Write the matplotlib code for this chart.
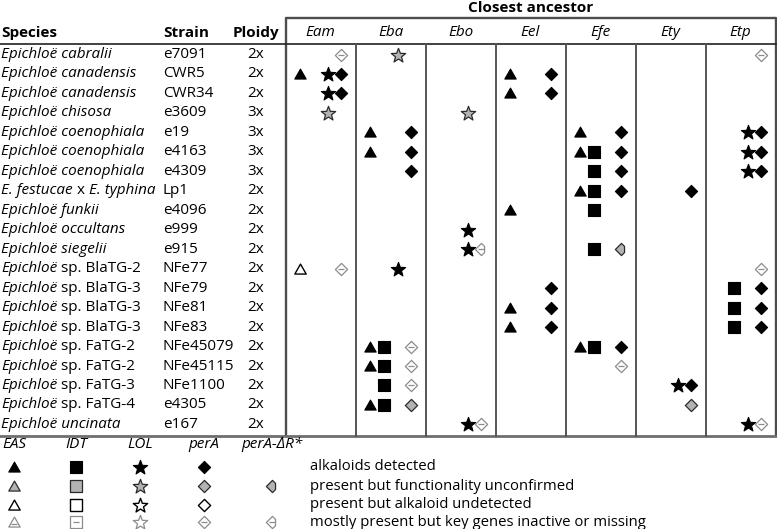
import re
import matplotlib
matplotlib.use("Agg")
import matplotlib.pyplot as plt
from matplotlib.path import Path
import numpy as np

FONT = "Open Sans"
plt.rcParams['font.family'] = [FONT, 'DejaVu Sans']

# ---------------- data ----------------
species = ["*Epichloë cabralii*", "*Epichloë canadensis*", "*Epichloë canadensis*", "*Epichloë chisosa*",
           "*Epichloë coenophiala*", "*Epichloë coenophiala*", "*Epichloë coenophiala*",
           "*E. festucae* x *E. typhina*", "*Epichloë funkii*", "*Epichloë occultans*", "*Epichloë siegelii*",
           "*Epichloë* sp. BlaTG-2", "*Epichloë* sp. BlaTG-3", "*Epichloë* sp. BlaTG-3", "*Epichloë* sp. BlaTG-3",
           "*Epichloë* sp. FaTG-2", "*Epichloë* sp. FaTG-2", "*Epichloë* sp. FaTG-3", "*Epichloë* sp. FaTG-4",
           "*Epichloë uncinata*"]
strains = ["e7091", "CWR5", "CWR34", "e3609", "e19", "e4163", "e4309", "Lp1", "e4096", "e999", "e915",
           "NFe77", "NFe79", "NFe81", "NFe83", "NFe45079", "NFe45115", "NFe1100", "e4305", "e167"]
ploidy = ["2x", "2x", "2x", "3x", "3x", "3x", "3x", "2x", "2x", "2x", "2x",
          "2x", "2x", "2x", "2x", "2x", "2x", "2x", "2x", "2x"]
ancestors = ["Eam", "Eba", "Ebo", "Eel", "Efe", "Ety", "Etp"]

# gene codes: E=EAS, I=IDT, L=LOL, P=perA, R=perA-dR ; state 1=detected 2=unconfirmed 3=undetected 4=inactive
cells_eam = {0: "P4", 1: "E1 L1 P1", 2: "L1 P1", 3: "L2", 11: "E3 P4"}
cells_eba = {0: "L2", 4: "E1 P1", 5: "E1 P1", 6: "P1", 11: "L1", 15: "E1 I1 P4", 16: "E1 I1 P4",
             17: "I1 P4", 18: "E1 I1 P2"}
cells_ebo = {3: "L2", 9: "L1", 10: "L1 R4", 19: "L1 P4"}
cells_eel = {1: "E1 P1", 2: "E1 P1", 8: "E1", 12: "P1", 13: "E1 P1", 14: "E1 P1"}
cells_efe = {4: "E1 P1", 5: "E1 I1 P1", 6: "I1 P1", 7: "E1 I1 P1", 8: "I1", 10: "I1 R2",
             15: "E1 I1 P1", 16: "P4"}
cells_ety = {7: "P1", 17: "L1 P1", 18: "P2"}
cells_etp = {0: "P4", 4: "L1 P1", 5: "L1 P1", 6: "L1 P1", 11: "P4", 12: "I1 P1", 13: "I1 P1",
             14: "I1 P1", 19: "L1 P4"}
all_cells = [cells_eam, cells_eba, cells_ebo, cells_eel, cells_efe, cells_ety, cells_etp]

legend_genes = ["EAS", "IDT", "LOL", "perA", "perA-ΔR*"]
legend_codes = ["E", "I", "L", "P", "R"]
legend_states = ["alkaloids detected", "present but functionality unconfirmed",
                 "present but alkaloid undetected", "mostly present but key genes inactive or missing"]

# ---------------- layout ----------------
W, H = 777, 529
fig = plt.figure(figsize=(W / 100, H / 100), dpi=100)
ax = fig.add_axes([0, 0, 1, 1])
ax.set_xlim(0, W)
ax.set_ylim(H, 0)
ax.axis('off')

row_y0, row_dy = 54.5, 19.47
box_left, box_right, box_top, head_line, box_bot = 285.5, 775.5, 18, 43.5, 435.5
col_w = (box_right - box_left) / len(ancestors)
slot_off = {"E": 14.5, "I": 28.5, "L": 42, "P": 55.5, "R": 55.5}
FS = 11

# shapes
def star_path(n=5, inner=0.42):
    ang = np.pi / 2 + np.arange(2 * n) * np.pi / n
    r = np.where(np.arange(2 * n) % 2 == 0, 1.0, inner)
    v = np.c_[r * np.cos(ang), r * np.sin(ang) - 0.05]
    return Path(np.vstack([v, v[:1]]), closed=True)

shapes = {
    "E": (Path([(-1, -0.8), (1, -0.8), (0, 0.95), (-1, -0.8)], closed=True), 8.2),
    "I": (Path([(-1, -1), (1, -1), (1, 1), (-1, 1), (-1, -1)], closed=True), 8.0),
    "L": (star_path(), 10.3),
    "P": (Path([(0, 1), (1, 0), (0, -1), (-1, 0), (0, 1)], closed=True), 8.8),
    "R": (Path([(0, 1), (-1, 0), (0, -1), (0.5, -0.5), (0.5, 0.5), (0, 1)], closed=True), 8.8),
}
state_style = {
    1: dict(mfc="black", mec="black", mew=0.8),
    2: dict(mfc="#b3b3b3", mec="#2b2b2b", mew=0.9),
    3: dict(mfc="white", mec="black", mew=1.0),
    4: dict(mfc="white", mec="#8c8c8c", mew=0.9),
}
minus_dy = {"E": 2.0, "I": 0.0, "L": 0.0, "P": 0.0, "R": 0.0}

def draw_symbol(gene, state, x, y):
    path, ms = shapes[gene]
    ax.plot([x], [y], marker=path, ms=ms, ls="none", **state_style[state], zorder=3)
    if state == 4 and gene != "L":
        ax.plot([x], [y + minus_dy[gene]], marker="_", ms=ms * 0.55, mew=0.9, color="#8c8c8c", zorder=4)

# ---------------- lines ----------------
lc = "#4d4d4d"
ax.plot([box_left, box_left, box_right, box_right], [box_bot, box_top, box_top, box_bot], color=lc, lw=1.7,
        solid_capstyle="butt", zorder=2)
ax.plot([0, box_right], [head_line, head_line], color="#222222", lw=1.2, zorder=2)
ax.plot([0, box_right], [box_bot, box_bot], color="#6e6e6e", lw=2.0, zorder=2)
for k in range(1, len(ancestors)):
    xk = box_left + k * col_w
    ax.plot([xk, xk], [head_line, box_bot], color="#555555", lw=1.4, zorder=2)

# ---------------- header texts ----------------
ax.text((box_left + box_right) / 2, 8, "Closest ancestor", ha="center", va="center", fontsize=FS,
        fontweight="bold")
hy = 33
ax.text(1, hy, "Species", ha="left", va="center", fontsize=FS, fontweight="bold")
ax.text(163, hy, "Strain", ha="left", va="center", fontsize=FS, fontweight="bold")
ax.text(256, hy, "Ploidy", ha="center", va="center", fontsize=FS, fontweight="bold")
for k, a in enumerate(ancestors):
    ax.text(box_left + (k + 0.5) * col_w, hy, a, ha="center", va="center", fontsize=FS, style="italic")

# ---------------- rows ----------------
fig.canvas.draw()
renderer = fig.canvas.get_renderer()
inv = ax.transData.inverted()

def mixed_text(x, y, s):
    parts = re.split(r"(\*[^*]+\*)", s)
    for p in parts:
        if not p:
            continue
        ital = p.startswith("*")
        txt = p.strip("*")
        t = ax.text(x, y, txt, ha="left", va="center", fontsize=FS, style="italic" if ital else "normal")
        bb = t.get_window_extent(renderer=renderer)
        x = inv.transform((bb.x1, bb.y0))[0]

for i in range(len(strains)):
    y = row_y0 + i * row_dy
    mixed_text(1, y, species[i])
    ax.text(163, y, strains[i], ha="left", va="center", fontsize=FS)
    ax.text(256, y, ploidy[i], ha="center", va="center", fontsize=FS)
    for k, cells in enumerate(all_cells):
        if i in cells:
            for code in cells[i].split():
                g, st = code[0], int(code[1])
                draw_symbol(g, st, box_left + k * col_w + slot_off[g], y)

# ---------------- legend ----------------
leg_x = [14, 76, 140, 204, 272]
leg_hy = 445
leg_y = [467, 486, 505, 522]
for gx, name in zip(leg_x, legend_genes):
    ax.text(gx, leg_hy, name, ha="center", va="center", fontsize=FS, style="italic")
for r, (ly, label) in enumerate(zip(leg_y, legend_states)):
    st = r + 1
    for gx, g in zip(leg_x, legend_codes):
        if g == "R" and st in (1, 3):
            continue
        draw_symbol(g, st, gx, ly)
    ax.text(310, ly, label, ha="left", va="center", fontsize=10.7)

fig.savefig("out.png", dpi=100)
